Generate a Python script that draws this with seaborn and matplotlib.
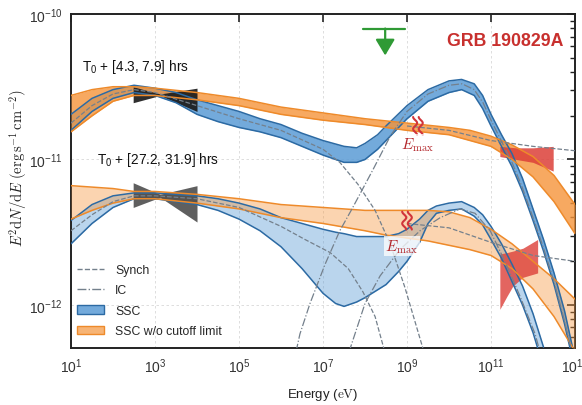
import numpy as np
import matplotlib
matplotlib.use("Agg")
import matplotlib.pyplot as plt
import matplotlib.colors as mcolors
import matplotlib.transforms as mtransforms
import seaborn as sns
from matplotlib.lines import Line2D
from matplotlib.patches import Patch
from matplotlib.ticker import FixedLocator, LogLocator, NullLocator, FuncFormatter, NullFormatter

sns.set_theme(style="white")
plt.rcParams["font.family"] = ["Liberation Sans", "DejaVu Sans"]
plt.rcParams["mathtext.fontset"] = "cm"

# ---- model bands and components: log10(E / eV) vs log10(E^2 dN/dE / erg s^-1 cm^-2) ----
# epoch 1: T0 + [4.3, 7.9] hrs
ssc_nocut_1_logE = [1, 1.5, 2, 2.5, 3, 4, 5, 6, 7, 8, 9, 10, 10.5, 11, 11.5, 12, 12.5, 13]
ssc_nocut_1_hi = [-10.56, -10.52, -10.50, -10.50, -10.51, -10.54, -10.58, -10.64, -10.68, -10.72,
                  -10.75, -10.78, -10.80, -10.84, -10.90, -10.98, -11.11, -11.31]
ssc_nocut_1_lo = [-10.81, -10.70, -10.60, -10.56, -10.56, -10.59, -10.63, -10.69, -10.73, -10.76,
                  -10.80, -10.83, -10.87, -10.91, -11.00, -11.12, -11.29, -11.51]

ssc_1_logE = [1, 1.5, 2, 2.5, 3, 3.5, 4, 4.5, 5, 5.5, 6, 6.5, 7, 7.5, 7.8, 8, 8.3, 8.5, 9, 9.5,
              10, 10.3, 10.6, 10.8, 11, 11.25, 11.5, 11.75, 12, 12.25, 12.5, 12.75, 13]
ssc_1_hi = [-10.69, -10.58, -10.52, -10.49, -10.51, -10.54, -10.59, -10.63, -10.67, -10.72, -10.76,
            -10.82, -10.87, -10.91, -10.92, -10.89, -10.83, -10.77, -10.63, -10.52, -10.46, -10.45,
            -10.48, -10.56, -10.69, -10.83, -10.96, -11.13, -11.34, -11.55, -11.78, -12.04, -12.37]
ssc_1_lo = [-10.80, -10.67, -10.58, -10.54, -10.56, -10.61, -10.69, -10.74, -10.78, -10.81, -10.85,
            -10.91, -10.97, -11.02, -11.02, -11.00, -10.93, -10.87, -10.72, -10.60, -10.54, -10.52,
            -10.56, -10.65, -10.77, -10.91, -11.05, -11.22, -11.42, -11.63, -11.86, -12.13, -12.45]

synch_1_logE = [1, 1.5, 2, 2.5, 3, 4, 5, 6, 7, 7.4, 7.83, 8.24, 8.6, 8.95, 9.38, 9.5]
synch_1 = [-10.75, -10.63, -10.55, -10.52, -10.54, -10.63, -10.72, -10.80, -10.93, -11.02, -11.17,
           -11.35, -11.58, -11.88, -12.30, -12.41]

ic_1_logE = [6.29, 6.45, 6.69, 7.05, 7.4, 7.69, 8.19, 8.6, 9.0, 9.5, 10.0, 10.31, 10.6, 10.81, 11.0,
             11.24, 11.5, 11.74, 12.0, 12.24, 12.5, 12.74, 13.0]
ic_1 = [-12.41, -12.20, -11.99, -11.72, -11.49, -11.34, -11.07, -10.84, -10.67, -10.55, -10.49, -10.48,
        -10.52, -10.61, -10.73, -10.87, -11.02, -11.19, -11.40, -11.60, -11.84, -12.10, -12.41]

synch_nocut_1_logE = [9, 10, 11, 12, 13]
synch_nocut_1 = [-10.77, -10.80, -10.87, -10.91, -10.94]

# epoch 2: T0 + [27.2, 31.9] hrs
ssc_nocut_2_logE = [1, 1.5, 2, 2.5, 3, 4, 5, 6, 7, 8, 8.5, 9, 9.5, 10, 10.5, 11, 11.5, 12, 12.5, 13]
ssc_nocut_2_hi = [-11.18, -11.19, -11.20, -11.22, -11.22, -11.24, -11.27, -11.31, -11.33, -11.35,
                  -11.35, -11.35, -11.35, -11.36, -11.40, -11.48, -11.58, -11.70, -11.82, -11.96]
ssc_nocut_2_lo = [-11.41, -11.35, -11.30, -11.27, -11.27, -11.30, -11.34, -11.40, -11.44, -11.49,
                  -11.52, -11.54, -11.56, -11.59, -11.62, -11.66, -11.75, -11.89, -12.08, -12.32]

ssc_2_logE = [1, 1.5, 2, 2.5, 3, 3.5, 4, 4.5, 5, 5.5, 6, 6.5, 7, 7.3, 7.5, 7.8, 8, 8.5, 8.8, 9, 9.3,
              9.5, 9.7, 10, 10.3, 10.6, 10.8, 11, 11.25, 11.5, 11.75, 12, 12.25]
ssc_2_hi = [-11.42, -11.31, -11.25, -11.23, -11.23, -11.24, -11.25, -11.27, -11.30, -11.34, -11.40,
            -11.44, -11.48, -11.50, -11.51, -11.53, -11.53, -11.53, -11.51, -11.48, -11.41, -11.35,
            -11.32, -11.30, -11.29, -11.33, -11.38, -11.46, -11.58, -11.72, -11.87, -12.06, -12.29]
ssc_2_lo = [-11.58, -11.44, -11.33, -11.27, -11.27, -11.29, -11.31, -11.35, -11.41, -11.49, -11.60,
            -11.75, -11.92, -11.99, -12.01, -11.98, -11.95, -11.86, -11.77, -11.70, -11.57, -11.44,
            -11.37, -11.35, -11.34, -11.39, -11.45, -11.55, -11.68, -11.84, -12.00, -12.19, -12.43]

synch_2_logE = [1, 1.5, 2, 2.5, 3, 4, 5, 6, 6.57, 7.17, 7.6, 7.95, 8.24, 8.43, 8.57]
synch_2 = [-11.49, -11.38, -11.29, -11.25, -11.25, -11.27, -11.33, -11.46, -11.55, -11.64, -11.75,
           -11.91, -12.08, -12.28, -12.43]

ic_2_logE = [7.52, 8.0, 8.36, 8.83, 9.31, 9.79, 10.26, 10.62, 10.98, 11.33, 11.69, 12.05, 12.21]
ic_2 = [-12.41, -11.99, -11.80, -11.62, -11.49, -11.40, -11.34, -11.37, -11.49, -11.70, -11.94,
        -12.20, -12.37]

synch_nocut_2_logE = [9, 10, 11, 12, 13]
synch_nocut_2 = [-11.44, -11.47, -11.57, -11.66, -11.70]

# ---- measured spectra (butterflies) ----
xray_logE = [2.48, 3.12, 4.0]
xray_1_hi = [-10.50, -10.55, -10.51]
xray_1_lo = [-10.61, -10.56, -10.67]
xray_2_hi = [-11.16, -11.24, -11.18]
xray_2_lo = [-11.33, -11.26, -11.43]

hess_1_logE = [11.21, 11.6, 12.0, 12.48]
hess_1_hi = [-10.91, -10.92, -10.92, -10.91]
hess_1_lo = [-10.98, -11.00, -11.02, -11.08]
hess_2_logE = [11.21, 11.38, 11.52, 11.76, 12.11]
hess_2_hi = [-11.65, -11.64, -11.63, -11.61, -11.55]
hess_2_lo = [-12.03, -11.94, -11.87, -11.81, -11.78]

# upper limit
ul_logE = 8.48
ul_span_logE = [7.95, 8.95]
ul_logF = -10.10
ul_arrow_logF = -10.285

# E_max markers and their labels (log10 E, log10 flux)
emax_marks = [(9.26, -10.77), (9.0, -11.42)]
emax_labels = [(9.24, -10.893), (8.88, -11.595)]

BLUE = "#5b9bd5"
BLUE_EDGE = "#2c6aa3"
ORANGE = "#f5943a"
ORANGE_EDGE = "#ee8a2a"
RED = "#dc3f38"
GREEN = "#2f9a35"
GRAY = "#74808c"


def P(v):
    return 10.0 ** np.asarray(v, dtype=float)


fig = plt.figure(figsize=(5.82, 4.06), dpi=100)
ax = fig.add_axes([0.122, 0.1404, 0.866, 0.8227])
ax.set_xscale("log")
ax.set_yscale("log")
ax.set_xlim(1e1, 1e13)
ax.set_ylim(P(-12.296), 1e-10)


def band(logE, hi, lo, face, edge, alpha, z, lw=1.1):
    E = P(logE)
    ax.fill_between(E, P(lo), P(hi), facecolor=face, alpha=alpha, lw=0, zorder=z)
    for y in (hi, lo):
        sns.lineplot(x=E, y=P(y), ax=ax, color=edge, lw=lw, zorder=5, sort=False, estimator=None)


def butterfly(logE, hi, lo, color, alpha, z):
    E = P(logE)
    ax.fill_between(E, P(lo), P(hi), facecolor=color, alpha=alpha, lw=0, zorder=z)


def component(logE, logF, ls):
    sns.lineplot(x=P(logE), y=P(logF), ax=ax, color=GRAY, lw=0.9, linestyle=ls,
                 zorder=5.5, sort=False, estimator=None)


# model bands
band(ssc_2_logE, ssc_2_hi, ssc_2_lo, BLUE, BLUE_EDGE, 0.42, 2)
band(ssc_1_logE, ssc_1_hi, ssc_1_lo, BLUE, BLUE_EDGE, 0.85, 2.1)
band(ssc_nocut_2_logE, ssc_nocut_2_hi, ssc_nocut_2_lo, ORANGE, ORANGE_EDGE, 0.40, 3)
band(ssc_nocut_1_logE, ssc_nocut_1_hi, ssc_nocut_1_lo, ORANGE, ORANGE_EDGE, 0.80, 3.1)

# VHE butterflies
butterfly(hess_1_logE, hess_1_hi, hess_1_lo, RED, 0.85, 3.5)
butterfly(hess_2_logE, hess_2_hi, hess_2_lo, RED, 0.80, 3.5)

# X-ray butterflies
butterfly(xray_logE, xray_1_hi, xray_1_lo, "#1c1c1c", 0.92, 4)
butterfly(xray_logE, xray_2_hi, xray_2_lo, "#3c3c3c", 0.82, 4)

# radiation components
component(synch_1_logE, synch_1, "--")
component(synch_2_logE, synch_2, "--")
component(synch_nocut_1_logE, synch_nocut_1, "--")
component(synch_nocut_2_logE, synch_nocut_2, "--")
component(ic_1_logE, ic_1, "-.")
component(ic_2_logE, ic_2, "-.")

# upper limit
ax.plot(P(ul_span_logE), P([ul_logF, ul_logF]), color=GREEN, lw=1.6, zorder=6)
ax.annotate("", xy=(P(ul_logE), P(ul_arrow_logF)), xytext=(P(ul_logE), P(ul_logF)),
            arrowprops=dict(arrowstyle="-|>,head_length=0.75,head_width=0.45", color=GREEN,
                            lw=1.6, shrinkA=0, shrinkB=0, mutation_scale=13), zorder=6)

# E_max break marks: two short wavy strokes drawn in pixel offsets around each point
wave_t = np.linspace(-1.0, 1.0, 60)
for (mx, my), (tx, ty) in zip(emax_marks, emax_labels):
    cx, cy = ax.transData.transform((P(mx), P(my)))
    for dx in (-2.8, 2.8):
        xs = cx + dx + 2.0 * np.sin(wave_t * 1.5 * np.pi)
        ys = cy + 9.0 * wave_t
        ax.add_line(Line2D(xs, ys, transform=mtransforms.IdentityTransform(),
                           color="#d1343a", lw=1.5, zorder=7, solid_capstyle="round"))
    ax.text(P(tx), P(ty), r"$E_{\rm max}$", color="#b3262b", fontsize=11, ha="center",
            va="center", zorder=7,
            bbox=dict(boxstyle="square,pad=0.1", fc="white", ec="none", alpha=0.75))

# labels and annotations
ax.text(0.022, 0.844, r"$\mathregular{T_0}$ + [4.3, 7.9] hrs", transform=ax.transAxes,
        fontsize=9.8, ha="left", va="center", color="#111111")
ax.text(0.052, 0.566, r"$\mathregular{T_0}$ + [27.2, 31.9] hrs", transform=ax.transAxes,
        fontsize=9.8, ha="left", va="center", color="#111111")
ax.text(0.861, 0.922, "GRB 190829A", transform=ax.transAxes, fontsize=12.8,
        fontweight="bold", color="#c8302e", ha="center", va="center")

ax.xaxis.set_major_locator(FixedLocator([10.0 ** k for k in range(1, 14, 2)]))
ax.xaxis.set_minor_locator(NullLocator())
ax.yaxis.set_major_locator(FixedLocator([1e-12, 1e-11, 1e-10]))
ax.yaxis.set_minor_locator(LogLocator(base=10, subs=np.arange(2, 10)))
ax.yaxis.set_minor_formatter(NullFormatter())
fmt = FuncFormatter(lambda v, p: r"$\mathregular{10^{%d}}$" % int(round(np.log10(v))))
ax.xaxis.set_major_formatter(fmt)
ax.yaxis.set_major_formatter(fmt)

ax.tick_params(which="both", direction="in", top=True, right=True, colors="#222222",
               labelcolor="#333333", labelsize=10)
ax.tick_params(which="major", length=6, width=1.2, pad=6)
ax.tick_params(which="minor", length=3.5, width=1.0)
for s in ax.spines.values():
    s.set_color("#222222")
    s.set_linewidth(1.4)

ax.grid(which="major", color="#d8d8d8", lw=0.6, ls=(0, (3, 3)))
ax.set_axisbelow(True)

ax.set_xlabel(r"Energy ($\mathrm{eV}$)", fontsize=9.5, color="#222222", labelpad=8)
ax.set_ylabel(r"$E^2\mathrm{d}N/\mathrm{d}E\;(\mathrm{erg\,s^{-1}\,cm^{-2}})$", fontsize=10.5,
              color="#222222")
ax.yaxis.set_label_coords(-0.081, 0.54)

handles = [
    Line2D([], [], color=GRAY, ls="--", lw=1.0),
    Line2D([], [], color=GRAY, ls="-.", lw=1.0),
    Patch(facecolor=mcolors.to_rgba(BLUE, 0.85), edgecolor=BLUE_EDGE, lw=1.0),
    Patch(facecolor=mcolors.to_rgba(ORANGE, 0.7), edgecolor=ORANGE_EDGE, lw=1.0),
]
labels = ["Synch", "IC", "SSC", "SSC w/o cutoff limit"]
ax.legend(handles, labels, loc="upper left", bbox_to_anchor=(0.012, 0.252), frameon=False,
          fontsize=8.8, handlelength=2.2, handletextpad=0.9, labelspacing=0.7, borderpad=0,
          borderaxespad=0)

fig.savefig("out.png", dpi=100)
